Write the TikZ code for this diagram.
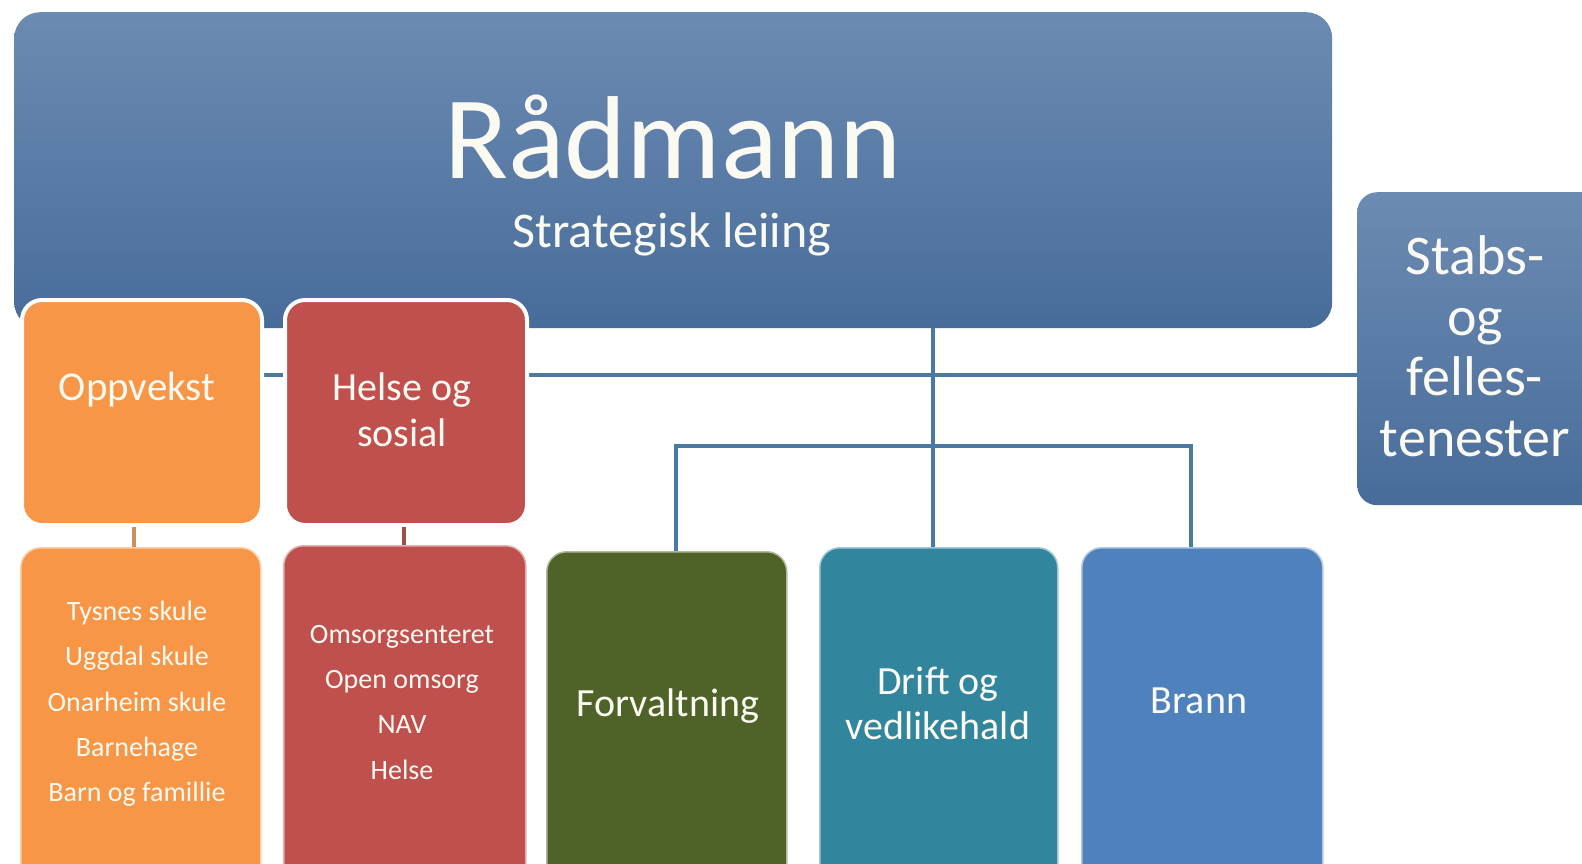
\documentclass[tikz,border=0pt]{standalone}
\usepackage{fontspec}
\setmainfont{Carlito}
\definecolor{rtop}{RGB}{108,139,178}
\definecolor{rbot}{RGB}{72,108,154}
\definecolor{oppc}{RGB}{247,150,70}
\definecolor{helc}{RGB}{192,80,77}
\definecolor{forc}{RGB}{79,98,40}
\definecolor{drc}{RGB}{49,133,156}
\definecolor{brc}{RGB}{79,129,189}
\definecolor{linec}{RGB}{74,122,163}
\definecolor{oppl}{RGB}{205,145,95}
\definecolor{hell}{RGB}{160,78,72}
\definecolor{txt}{RGB}{250,250,242}
\tikzset{
  boxbase/.style={anchor=north west, inner sep=0pt, rounded corners=20pt},
  bluebox/.style={boxbase, top color=rtop, bottom color=rbot, draw=none},
  topbox/.style={boxbase, fill=#1, draw=white, line width=4pt},
  subbox/.style={boxbase, fill=#1, draw=white!55!#1, line width=1.5pt},
  conn/.style={draw=linec, line width=3.5pt},
  tx/.style={anchor=base, text=txt, inner sep=0pt, font=#1},
}
\newcommand{\fsz}[1]{\fontsize{#1}{#1}\selectfont}
\begin{document}
\begin{tikzpicture}[x=1pt,y=-1pt]
\clip (0,0) rectangle (1582,863);
\fill[white] (0,0) rectangle (1582,863);
% top boxes
\node[bluebox, rounded corners=26pt, minimum width=1318pt, minimum height=316pt] (radmann) at (14,12) {};
\node[bluebox, minimum width=250pt, minimum height=313pt] (stabs) at (1357,192) {};
% coordinates for connectors
\coordinate (hl) at (0,375);
\coordinate (bar) at (0,446);
\coordinate (dx) at (933,0);
\coordinate (fx) at (676,0);
\coordinate (bx) at (1191,0);
\coordinate (ox) at (134,0);
\coordinate (hx) at (404,0);
% boxes below
\node[subbox=forc, minimum width=240pt, minimum height=340pt] (forv) at (546,551) {};
\node[subbox=drc, minimum width=238pt, minimum height=340pt] (drift) at (819,547) {};
\node[subbox=brc, minimum width=241pt, minimum height=340pt] (brann) at (1081,547) {};
\node[subbox=oppc, minimum width=240pt, minimum height=340pt] (oppsub) at (20,547) {};
\node[subbox=helc, minimum width=242pt, minimum height=340pt] (helsesub) at (283,545) {};
% connectors
\draw[conn] (hl -| 250,0) -- (stabs.west |- hl);
\draw[conn] (radmann.south -| dx) -- (drift.north -| dx);
\draw[conn] (forv.north -| fx) -- (fx |- bar) -- (bx |- bar) -- (brann.north -| bx);
% level-2 boxes
\node[topbox=oppc, minimum width=240pt, minimum height=225pt] (opp) at (20,298) {};
\node[topbox=helc, minimum width=242pt, minimum height=225pt] (helse) at (283,298) {};
\draw[draw=oppl, line width=4pt] (opp.south -| ox) -- (oppsub.north -| ox);
\draw[draw=hell, line width=4pt] (helse.south -| hx) -- (helsesub.north -| hx);
% texts
\node[tx=\fsz{118}] (t1) at (673,178) {Rådmann};
\node[tx=\fsz{50}] (t2) at (672,247) {Strategisk leiing};
\node[tx=\fsz{56}] (s1) at (1475,274) {Stabs-};
\node[tx=\fsz{56}] (s2) at (1475,335) {og};
\node[tx=\fsz{56}] (s3) at (1475,395) {felles-};
\node[tx=\fsz{56}] (s4) at (1475,456) {tenester};
\node[tx=\fsz{41}] (o1) at (137,400) {Oppvekst};
\node[tx=\fsz{40}] (h1) at (402,400) {Helse og};
\node[tx=\fsz{40}] (h2) at (402,446) {sosial};
\node[tx=\fsz{28}] (a1) at (137,620) {Tysnes skule};
\node[tx=\fsz{28}] (a2) at (137,665) {Uggdal skule};
\node[tx=\fsz{28}] (a3) at (137,711) {Onarheim skule};
\node[tx=\fsz{28}] (a4) at (137,756) {Barnehage};
\node[tx=\fsz{28}] (a5) at (137,801) {Barn og famillie};
\node[tx=\fsz{28}] (b1) at (402,643) {Omsorgsenteret};
\node[tx=\fsz{28}] (b2) at (402,688) {Open omsorg};
\node[tx=\fsz{28}] (b3) at (402,733) {NAV};
\node[tx=\fsz{28}] (b4) at (402,779) {Helse};
\node[tx=\fsz{40}] (f1) at (668,716) {Forvaltning};
\node[tx=\fsz{40}] (d1) at (938,694) {Drift og};
\node[tx=\fsz{40}] (d2) at (938,739) {vedlikehald};
\node[tx=\fsz{40}] (r1) at (1199,713) {Brann};
\end{tikzpicture}
\end{document}
